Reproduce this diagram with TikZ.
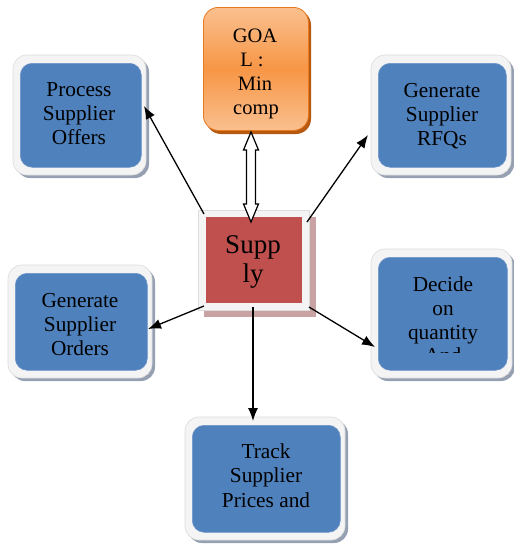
\documentclass[tikz,border=0pt]{standalone}
\usepackage{fontspec}
\setmainfont{Liberation Serif}
\usetikzlibrary{arrows.meta,calc}
\definecolor{bluebox}{HTML}{4F81BD}
\definecolor{blueline}{HTML}{6E95C8}
\definecolor{framefill}{HTML}{F4F4F4}
\definecolor{frameline}{HTML}{DCDCDC}
\definecolor{shadowblue}{HTML}{95A0B2}
\definecolor{redbox}{HTML}{C0504D}
\definecolor{redshadow}{HTML}{C9A3A3}
\definecolor{orangemid}{HTML}{F79646}
\definecolor{orangelight}{HTML}{FAC08F}
\definecolor{orangeline}{HTML}{E8791E}
\definecolor{orangeshadow}{HTML}{B65A12}
\tikzset{
  boxshadow/.style={rounded corners=14pt, fill=shadowblue},
  boxframe/.style={rounded corners=14pt, fill=framefill, draw=frameline, line width=0.6pt},
  boxinner/.style={rounded corners=12pt, fill=bluebox, draw=blueline, line width=0.6pt},
  txt/.style={font=\fontsize{21.3}{24}\selectfont, anchor=base, inner sep=0pt},
  goaltxt/.style={font=\fontsize{20.5}{22}\selectfont, anchor=base, inner sep=0pt},
  suptxt/.style={font=\fontsize{27}{30}\selectfont, anchor=base, inner sep=0pt},
  conn/.style={line width=1.3pt, -{Latex[length=13pt,width=10pt]}},
  dblarrow/.style={draw=black, fill=white, line width=1.2pt, line join=miter},
}
\newcommand{\bluebox}[5]{% name, x1,y1,x2,y2 of inner box; frame derived
  \path[boxshadow] (#2-4,#3-5) rectangle (#4+8,#5+11);
  \path[boxframe] (#2-7,#3-8) rectangle (#4+5,#5+8);
  \node[boxinner, inner sep=0pt, minimum width=#4-#2, minimum height=#5-#3, anchor=north west] (#1) at (#2,#3) {};
}
\begin{document}
\begin{tikzpicture}[x=1pt,y=-1pt]
\useasboundingbox (0,0) rectangle (514,544);
\fill[white] (0,0) rectangle (514,544);

% blue boxes
\bluebox{proc}{20}{63}{141}{167}
\bluebox{rfq}{378}{63}{506}{167}
\bluebox{ord}{15}{273}{147}{370}
\bluebox{dec}{378}{257}{507}{370}
\bluebox{trk}{192}{425}{340}{532}

% texts
\node[txt] (proc1) at (79,96) {Process};
\node[txt] (proc2) at (79,120) {Supplier};
\node[txt] (proc3) at (79,144) {Offers};

\node[txt] (rfq1) at (442,97) {Generate};
\node[txt] (rfq2) at (442,121) {Supplier};
\node[txt] (rfq3) at (442,145) {RFQs};

\node[txt] (ord1) at (80,307) {Generate};
\node[txt] (ord2) at (80,331) {Supplier};
\node[txt] (ord3) at (80,355) {Orders};

\node[txt] (dec1) at (443,291) {Decide};
\node[txt] (dec2) at (443,315) {on};
\node[txt] (dec3) at (443,339) {quantity};
\begin{scope}
  \clip (378,300) rectangle (507,352.5);
  \node[txt] (dec4) at (443,362.5) {And};
\end{scope}

\node[txt] (trk1) at (266,458) {Track};
\node[txt] (trk2) at (266,482) {Supplier};
\node[txt] (trk3) at (266,507) {Prices and};

% goal box
\path[rounded corners=15pt, fill=orangeshadow] (206,10) rectangle (311,134);
\node[rounded corners=15pt, draw=orangeline, line width=0.8pt,
      top color=orangelight, bottom color=orangelight, middle color=orangemid,
      minimum width=105pt, minimum height=123pt, inner sep=0pt, anchor=north west]
      (goal) at (203,7) {};
\node[goaltxt] (g1) at (255,42) {GOA};
\node[goaltxt] (g2) at (252,66) {L :};
\node[goaltxt] (g3) at (255,90) {Min};
\node[goaltxt] (g4) at (256,114) {comp};

% supply box
\path[fill=redshadow] (204,217) rectangle (316,317);
\path[fill=framefill, draw=frameline, line width=0.6pt] (198,210) rectangle (309,310);
\node[fill=redbox, minimum width=96pt, minimum height=86pt, inner sep=0pt, anchor=north west]
      (sup) at (206,217) {};
\node[suptxt] (s1) at (253,253) {Supp};
\node[suptxt] (s2) at (253,282) {ly};

% connectors
\coordinate (tP) at (204,214);
\coordinate (tR) at (307,222);
\coordinate (tO) at (204,306);
\coordinate (tD) at (309,307);
\coordinate (tT) at (253,307);
\coordinate (hP) at (144,106);
\coordinate (hR) at (368,135);
\coordinate (hO) at (148,329);
\coordinate (hD) at (375,347);
\coordinate (hT) at (253,421);
\draw[conn] (tP) -- (hP);
\draw[conn] (tR) -- (hR);
\draw[conn] (tO) -- (hO);
\draw[conn] (tD) -- (hD);
\draw[conn] (tT) -- (hT);

% double hollow arrow between goal and supply
\coordinate (ga) at (251,132);
\coordinate (sa) at (251,222);
\draw[dblarrow] (ga) -- ++(7.5,18) -- ++(-3,0) |- ($(sa)+(4.5,-18)$) -- ++(3,0) -- (sa)
  -- ++(-7.5,-18) -- ++(3,0) |- ($(ga)+(-4.5,18)$) -- ++(-3,0) -- cycle;
\end{tikzpicture}
\end{document}
